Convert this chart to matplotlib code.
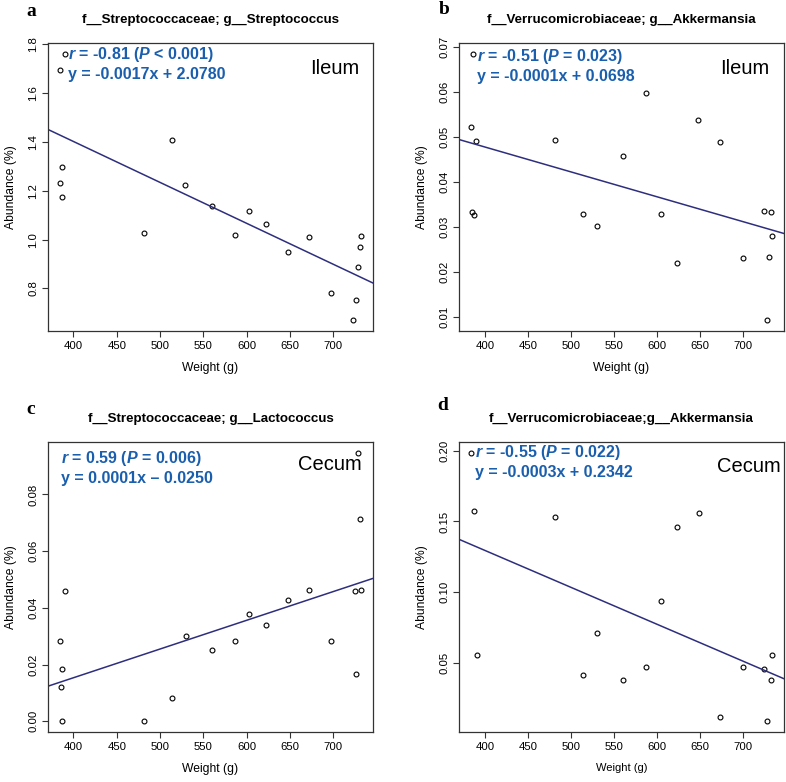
import numpy as np
import matplotlib
matplotlib.use("Agg")
import matplotlib.pyplot as plt

plt.rcParams['font.family'] = ['Liberation Sans', 'DejaVu Sans']
plt.rcParams['mathtext.fontset'] = 'custom'
plt.rcParams['mathtext.rm'] = 'Liberation Sans'
plt.rcParams['mathtext.it'] = 'Liberation Sans:italic'
plt.rcParams['mathtext.bf'] = 'Liberation Sans:bold'
plt.rcParams['mathtext.bfit'] = 'Liberation Sans:bold:italic'

# ---------------- data ----------------
titles = ["f__Streptococcaceae; g__Streptococcus",
          "f__Verrucomicrobiaceae; g__Akkermansia",
          "f__Streptococcaceae; g__Lactococcus",
          "f__Verrucomicrobiaceae;g__Akkermansia"]
letters = ["a", "b", "c", "d"]
sites = ["Ileum", "Ileum", "Cecum", "Cecum"]
stat_r = [r"$\mathbfit{r}$ = -0.81 ($\mathbfit{P}$ < 0.001)",
          r"$\mathbfit{r}$ = -0.51 ($\mathbfit{P}$ = 0.023)",
          r"$\mathbfit{r}$ = 0.59 ($\mathbfit{P}$ = 0.006)",
          r"$\mathbfit{r}$ = -0.55 ($\mathbfit{P}$ = 0.022)"]
stat_eq = ["y = -0.0017x + 2.0780",
           "y = -0.0001x + 0.0698",
           "y = 0.0001x \u2013 0.0250",
           "y = -0.0003x + 0.2342"]

weight_a = [390, 384.5, 513.7, 386.5, 385, 387, 529, 481.5, 560.3, 603.3,
            586.4, 622.5, 647.5, 671.7, 698, 732.2, 731.4, 728.3, 726.4, 723.3]
abund_a = [1.762, 1.695, 1.41, 1.299, 1.231, 1.174, 1.222, 1.027, 1.139, 1.118,
           1.02, 1.065, 0.949, 1.011, 0.782, 1.013, 0.969, 0.887, 0.751, 0.669]

weight_b = [386, 384, 390.3, 482, 587, 560.8, 648.6, 673.3, 385.3, 388,
            514.4, 530, 604.5, 623.4, 700, 725.2, 733, 734.1, 730.2, 728.3]
abund_b = [0.0685, 0.0523, 0.0491, 0.0493, 0.0598, 0.0457, 0.0538, 0.0490, 0.0333, 0.0327,
           0.0329, 0.0302, 0.0328, 0.0220, 0.0231, 0.0335, 0.0333, 0.0281, 0.0234, 0.0093]

weight_c = [728.3, 731.4, 390.3, 384.5, 386.5, 385.7, 387, 481.5, 514.2, 529.9,
            560.3, 586.4, 603.3, 622.5, 647.5, 671.7, 698, 725.6, 732.2, 726.4]
abund_c = [0.0947, 0.0714, 0.0460, 0.0284, 0.0186, 0.0121, 0.0, 0.0, 0.0083, 0.0299,
           0.0251, 0.0284, 0.0378, 0.0340, 0.0426, 0.0464, 0.0282, 0.0460, 0.0462, 0.0165]

weight_d = [384, 388, 482, 623.9, 649, 390.6, 514.4, 530, 560.8, 587,
            604.5, 673.3, 700, 725.2, 734.1, 733, 728.3]
abund_d = [0.1986, 0.1573, 0.1532, 0.1462, 0.1563, 0.0554, 0.0413, 0.0712, 0.0378, 0.0472,
           0.0941, 0.0119, 0.0472, 0.0460, 0.0559, 0.0383, 0.0088]

xticks = [400, 450, 500, 550, 600, 650, 700]
yticks_a = [0.8, 1.0, 1.2, 1.4, 1.6, 1.8]
yticks_b = [0.01, 0.02, 0.03, 0.04, 0.05, 0.06, 0.07]
yticks_c = [0.00, 0.02, 0.04, 0.06, 0.08]
yticks_d = [0.05, 0.10, 0.15, 0.20]
yfmt = ["{:.1f}", "{:.2f}", "{:.2f}", "{:.2f}"]

panels = [(weight_a, abund_a, yticks_a), (weight_b, abund_b, yticks_b),
          (weight_c, abund_c, yticks_c), (weight_d, abund_d, yticks_d)]

# ---------------- layout (pixels) ----------------
W, H = 786, 782
fig = plt.figure(figsize=(W / 100, H / 100), dpi=100)
fig.patch.set_facecolor("white")

boxes = [(48, 43, 373, 331), (459, 43, 784, 331),
         (48, 442, 373, 732), (459, 442, 784, 732)]
letter_pos = [(31, 12), (444, 10), (31, 410), (443, 405)]
r_offset = [(20, 12), (18, 13), (13, 17), (16, 10)]
site_offset = [(14, 25), (15, 25), (11, 23), (3, 24)]
blue = "#1a5fae"
navy = "#2e2e7e"

for i, (x, y, yt) in enumerate(panels):
    l, t, r, b = boxes[i]
    ax = fig.add_axes([l / W, 1 - b / H, (r - l) / W, (b - t) / H])
    x = np.asarray(x, float)
    y = np.asarray(y, float)
    ax.plot(x, y, linestyle="none", marker="o", markersize=3.5,
            markerfacecolor="none", markeredgecolor="black", markeredgewidth=0.8)
    xr = np.ptp(x) * 0.04
    yr = np.ptp(y) * 0.04
    ax.set_xlim(x.min() - xr, x.max() + xr)
    ax.set_ylim(y.min() - yr, y.max() + yr)
    slope, intercept = np.polyfit(x, y, 1)
    ax.axline((0, intercept), slope=slope, color=navy, linewidth=1.1)

    ax.set_xticks(xticks)
    ax.set_xticklabels([str(v) for v in xticks], fontsize=8.2)
    ax.set_yticks(yt)
    ax.set_yticklabels([yfmt[i].format(v) for v in yt], fontsize=8.2,
                       rotation=90, va="center")
    ax.tick_params(direction="out", length=4, width=0.8, color="#333333", pad=3)
    for s in ax.spines.values():
        s.set_linewidth(0.9)
        s.set_color("#333333")
    ax.set_xlabel("Weight (g)", fontsize=8.7 if i < 3 else 8, labelpad=8)
    ax.set_ylabel("Abundance (%)", fontsize=8.7, labelpad=8)

    # title
    fig.text((l + r) / 2 / W, 1 - (20 if i < 2 else 419) / H, titles[i],
             ha="center", va="center", fontsize=9.6, fontweight="bold")
    # panel letter
    fig.text(letter_pos[i][0] / W, 1 - letter_pos[i][1] / H, letters[i],
             ha="center", va="center", fontsize=14, fontweight="bold",
             family=["Liberation Serif"])
    # stats
    ox, oy = r_offset[i]
    pw, ph = r - l, b - t
    ax.text(ox / pw, 1 - oy / ph, stat_r[i], transform=ax.transAxes,
            ha="left", va="center", fontsize=11.5, fontweight="bold", color=blue)
    ax.text(ox / pw, 1 - (oy + 20) / ph, stat_eq[i], transform=ax.transAxes,
            ha="left", va="center", fontsize=11.5, fontweight="bold", color=blue)
    sx, sy = site_offset[i]
    ax.text(1 - sx / pw, 1 - sy / ph, sites[i], transform=ax.transAxes,
            ha="right", va="center", fontsize=14.5, color="black")

fig.savefig("out.png", dpi=100, facecolor="white")
